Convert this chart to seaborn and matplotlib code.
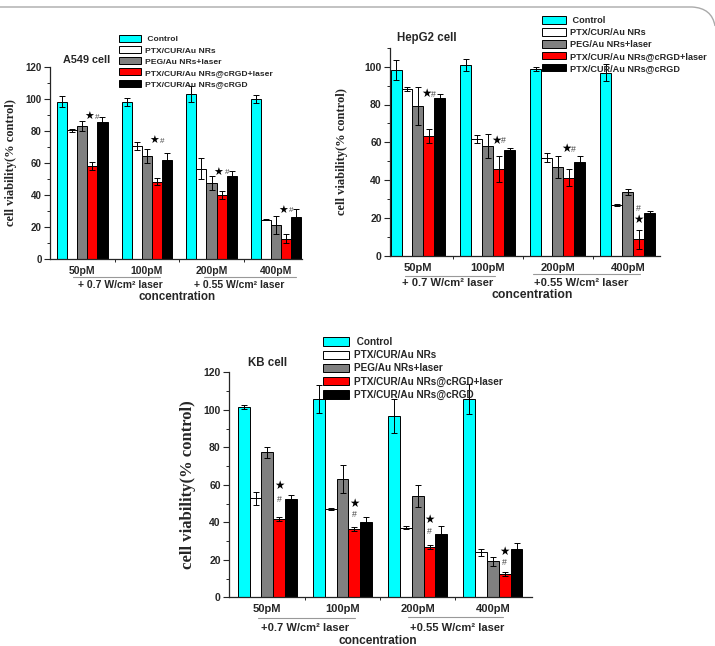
import numpy as np
import pandas as pd
import seaborn as sns
import matplotlib.pyplot as plt
from matplotlib.ticker import MultipleLocator
from matplotlib.path import Path
from matplotlib.patches import PathPatch

concs = ["50pM", "100pM", "200pM", "400pM"]
groups = [" Control", "PTX/CUR/Au NRs", "PEG/Au NRs+laser",
          "PTX/CUR/Au NRs@cRGD+laser", "PTX/CUR/Au NRs@cRGD"]
colors = ["#00FFFF", "#FFFFFF", "#808080", "#FF0000", "#000000"]
laser_labels = [["+ 0.7 W/cm² laser", "+ 0.55 W/cm² laser"],
                ["+ 0.7 W/cm² laser", "+0.55 W/cm² laser"],
                ["+0.7 W/cm² laser", "+0.55 W/cm² laser"]]

# rows = groups, columns = concentrations
a549_mean = [[98.3, 98.3, 103.1, 99.8],
             [80.5, 70.7, 56.5, 24.5],
             [83.2, 64.2, 47.4, 21.4],
             [58.0, 48.4, 40.3, 12.7],
             [85.7, 61.7, 51.8, 26.0]]
a549_sd = [[3.3, 2.5, 5.0, 2.5],
           [1.0, 2.5, 6.5, 0.3],
           [3.0, 4.5, 4.5, 5.5],
           [2.4, 2.0, 2.5, 3.0],
           [3.0, 4.5, 3.5, 5.0]]
a549_star = [88.6, 73.5, 54.0, 30.2]
a549_hash = [88.6, 73.5, 54.0, 30.2]

hepg2_mean = [[98.3, 100.9, 98.8, 96.8],
              [88.4, 61.7, 51.9, 26.8],
              [79.2, 58.0, 46.9, 33.7],
              [63.3, 45.9, 41.3, 8.7],
              [83.3, 55.7, 49.4, 22.4]]
hepg2_sd = [[5.3, 3.0, 1.0, 4.5],
            [1.0, 2.0, 2.5, 0.3],
            [10.0, 6.5, 6.0, 1.5],
            [3.5, 7.0, 4.5, 5.0],
            [2.0, 1.5, 3.5, 1.2]]
hepg2_star = [85.4, 60.7, 56.3, 19.0]
hepg2_hash = [85.4, 60.7, 56.3, 25.2]

kb_mean = [[101.3, 105.6, 96.7, 105.6],
           [52.8, 47.1, 37.2, 24.0],
           [77.3, 63.1, 54.0, 19.2],
           [41.6, 36.4, 26.7, 12.4],
           [52.3, 40.4, 33.6, 25.6]]
kb_sd = [[1.0, 7.5, 9.0, 8.0],
         [3.5, 0.6, 0.7, 2.0],
         [3.0, 7.5, 6.0, 2.5],
         [1.0, 1.0, 1.0, 1.0],
         [2.0, 2.5, 4.5, 3.5]]
kb_star = [59.2, 50.0, 41.4, 24.2]
kb_hash = [52.4, 43.9, 35.0, 18.5]

sns.set_style("ticks")
plt.rcParams["font.family"] = ["Liberation Sans", "DejaVu Sans"]
plt.rcParams["font.weight"] = "bold"
plt.rcParams["axes.linewidth"] = 0.9

W, H = 715, 646
fig = plt.figure(figsize=(W / 100, H / 100), dpi=100)


def px(x, y):
    return x / W, 1 - y / H


def panel(rect, means, sds, stars, hashes, title, title_xy, leg_xy, leg_fs,
          ylim, xlim, gw, fs, star_dx, hash_dx, ylab_x, ylab_fs, lasers,
          lines, lab_y, conc_xy, conc_fs):
    l, t, r, b = rect
    ax = fig.add_axes([l / W, 1 - b / H, (r - l) / W, (b - t) / H])
    df = pd.DataFrame({"conc": np.tile(concs, len(groups)),
                       "group": np.repeat(groups, len(concs)),
                       "value": np.ravel(means)})
    sns.barplot(data=df, x="conc", y="value", hue="group", order=concs,
                hue_order=groups, palette=colors, saturation=1, width=gw,
                edgecolor="black", linewidth=0.7, errorbar=None, ax=ax)
    for cont, sd in zip(ax.containers, sds):
        xs = [p.get_x() + p.get_width() / 2 for p in cont]
        ys = [p.get_height() for p in cont]
        ax.errorbar(xs, ys, yerr=sd, fmt="none", ecolor="black",
                    elinewidth=0.7, capsize=2, capthick=0.7)
    red = ax.containers[3]
    for i, p in enumerate(red):
        xc = p.get_x() + p.get_width() / 2
        ax.text(xc + star_dx[i], stars[i], "★", ha="center", va="center",
                fontsize=fs + 0.8, color="black")
        ax.text(xc + hash_dx[i], hashes[i], "#", ha="center", va="center",
                fontsize=fs - 1.2, color="#444444", fontweight="normal")

    ax.set_xlim(*xlim)
    ax.set_ylim(*ylim)
    ax.yaxis.set_major_locator(MultipleLocator(20))
    ax.yaxis.set_minor_locator(MultipleLocator(10))
    ax.set_xticks([0.5, 1.5, 2.5], minor=True)
    ax.tick_params(axis="y", which="major", direction="out", length=4,
                   width=0.8, labelsize=fs, pad=2)
    ax.tick_params(axis="y", which="minor", direction="out", length=2.5,
                   width=0.7)
    ax.tick_params(axis="x", which="major", length=0, labelsize=fs + 0.5,
                   pad=5)
    ax.tick_params(axis="x", which="minor", direction="out", length=2.5,
                   width=0.7)
    sns.despine(ax=ax)

    ax.set_ylabel("cell viability(% control)", family="Liberation Serif",
                  fontsize=ylab_fs, fontweight="bold")
    ax.yaxis.set_label_coords((ylab_x - l) / (r - l), 0.5)
    ax.set_xlabel("")
    fig.text(*px(*conc_xy), "concentration", ha="center", va="center",
             fontsize=conc_fs)

    tr = ax.get_xaxis_transform()
    for (x0, x1, xt, ly), txt in zip(lines, lasers):
        yl = (b - ly) / (b - t)
        yt = (b - lab_y) / (b - t)
        ax.plot([x0, x1], [yl, yl], transform=tr, color="#999999", lw=0.8,
                clip_on=False)
        ax.text(xt, yt, txt, transform=tr, ha="center", va="center",
                fontsize=fs + 0.5)

    fig.text(*px(*title_xy), title, ha="left", va="center", fontsize=fs + 0.8)

    handles, labels = ax.get_legend_handles_labels()
    ax.legend(handles, labels, loc="upper left", bbox_to_anchor=px(*leg_xy),
              bbox_transform=fig.transFigure, frameon=False,
              prop={"weight": "bold", "size": leg_fs}, handlelength=2.6,
              handleheight=0.9, labelspacing=0.32, handletextpad=0.5,
              borderpad=0, borderaxespad=0)
    return ax


panel((50, 67, 302, 259), a549_mean, a549_sd, a549_star, a549_hash,
      "A549 cell", (63, 60), (119, 35), 6.1, (0, 120), (-0.50, 3.40), 0.78,
      7, [-0.05] * 4, [0.08] * 4, 17, 9, laser_labels[0],
      [(-0.14, 1.21, 0.59, 277), (1.88, 3.31, 2.43, 277)], 285,
      (177, 297), 8.4)

panel((390, 47.8, 660, 255.7), hepg2_mean, hepg2_sd, hepg2_star, hepg2_hash,
      "HepG2 cell", (397, 38), (542, 16), 6.6, (0, 110), (-0.40, 3.46), 0.785,
      7.5, [-0.04, -0.04, -0.04, 0.0], [0.07, 0.07, 0.07, 0.0], 348, 9,
      laser_labels[1],
      [(-0.19, 1.10, 0.43, 276), (1.64, 3.17, 2.34, 274)], 283,
      (532, 295), 8.8)

panel((229, 372.3, 532, 597.3), kb_mean, kb_sd, kb_star, kb_hash,
      "KB cell", (248, 363), (323, 337), 7.2, (0, 120), (-0.51, 3.52), 0.785,
      7.5, [0.0] * 4, [0.0] * 4, 196, 12, laser_labels[2],
      [(-0.13, 1.17, 0.50, 618), (1.87, 3.14, 2.53, 617)], 628,
      (378, 641), 8.6)

# page frame: top edge with a rounded corner at the right
verts = [px(0, 7), px(692, 7), px(712, 8), px(715, 26)]
frame = PathPatch(Path(verts, [Path.MOVETO, Path.LINETO, Path.CURVE3, Path.CURVE3]),
                  transform=fig.transFigure, fill=False, edgecolor="#aaaaaa",
                  lw=1.0)
fig.patches.append(frame)

fig.savefig("out.png", dpi=100)
